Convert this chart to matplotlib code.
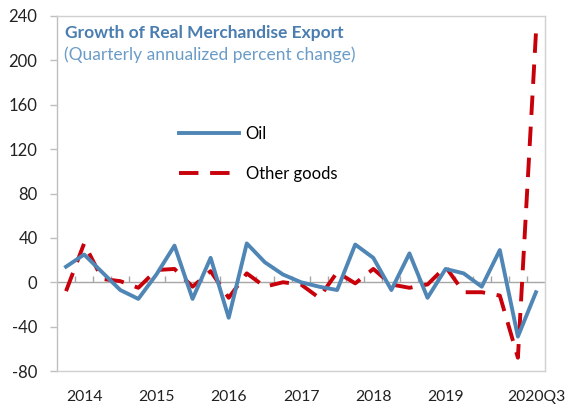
import numpy as np
import matplotlib
matplotlib.use("Agg")
import matplotlib.pyplot as plt

plt.rcParams["font.family"] = ["Lato", "DejaVu Sans"]
plt.rcParams["axes.unicode_minus"] = False

# Quarterly annualized % change, 2014Q1 .. 2020Q3
oil = [14, 25, 9, -7, -15, 7, 33, -15, 22, -32, 35, 18, 7, 0,
       -4, -7, 34, 22, -7, 26, -14, 12, 8, -4, 29, -49, -9]
other = [-8, 35, 3, 1, -5, 11, 12, -4, 10, -14, 8, -4, 0, -2,
         -14, 9, -1, 12, -2, -5, -2, 14, -9, -9, -12, -68, 225]
tick_pos = [1, 5, 9, 13, 17, 21, 26]
tick_lbl = ["2014", "2015", "2016", "2017", "2018", "2019", "2020Q3"]

BLUE = "#4f86b6"
RED = "#c8000a"
GRID = "#a6a6a6"

x = np.arange(len(oil))

fig = plt.figure(figsize=(5.65, 4.05), dpi=100)
ax = fig.add_axes([57 / 565, 34 / 405, 488 / 565, 355 / 405])

ax.axhline(0, color=GRID, lw=1.0, zorder=1)
# small category separators sitting on the zero line
ax.vlines(np.arange(0.5, len(oil) - 0.5), 0, 5.5, color=GRID, lw=1.0, zorder=1)

ax.plot(x, oil, color=BLUE, lw=2.8, label="Oil", zorder=3)
ax.plot(x, other, color=RED, lw=2.8, ls=(0, (5, 3)), label="Other goods", zorder=2)

ax.set_xlim(-0.5, len(oil) - 0.5)
ax.set_ylim(-80, 240)
ax.set_yticks(np.arange(-80, 241, 40))
ax.set_xticks(tick_pos)
ax.set_xticklabels(tick_lbl)
ax.tick_params(axis="x", length=0, pad=14, labelsize=11.3, labelcolor="#222222")
ax.tick_params(axis="y", length=5, width=1, color="#bfbfbf", pad=9,
               labelsize=12, labelcolor="#222222")

for s in ax.spines.values():
    s.set_color("#d0d0d0")
    s.set_linewidth(1.0)
ax.spines["left"].set_color("#bfbfbf")

ax.text(0.016, 0.952, "Growth of Real Merchandise Export", transform=ax.transAxes,
        color="#4a7db0", fontsize=12.5, fontweight="bold", va="center", ha="left")
ax.text(0.014, 0.890, "(Quarterly annualized percent change)", transform=ax.transAxes,
        color="#6b9cc8", fontsize=12.5, va="center", ha="left")

ax.legend(loc="upper left", bbox_to_anchor=(0.25, 0.69), frameon=False,
          fontsize=12, handlelength=3.6, handletextpad=0.4, labelspacing=1.45,
          borderpad=0, borderaxespad=0)

fig.savefig("out.png", dpi=100)
